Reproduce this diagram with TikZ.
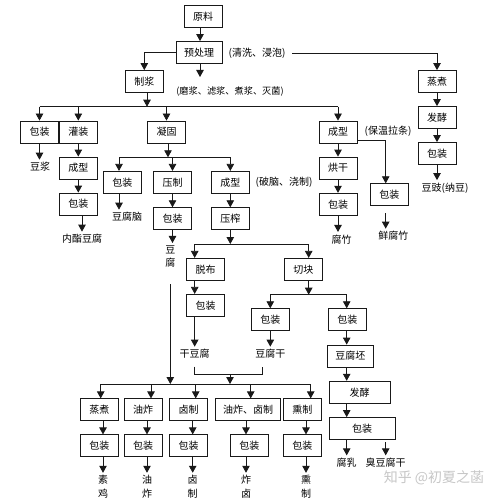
\documentclass[tikz,border=0pt]{standalone}
\usepackage{fontspec}
\setmainfont{Noto Sans CJK SC}
\usetikzlibrary{arrows.meta, positioning}

\begin{document}
\begin{tikzpicture}[x=1pt, y=-1pt,
    procbox/.style={draw=black!90, line width=0.8pt, minimum width=38pt, minimum height=22pt, inner sep=1pt, font=\fontsize{10}{12}\selectfont},
    note/.style={inner sep=2.5pt, font=\fontsize{10}{12}\selectfont},
    vnote/.style={inner sep=2.5pt, align=center, font=\fontsize{10}{13.3}\selectfont},
    arr/.style={-{Triangle[length=7pt, width=7.5pt]}, line width=0.8pt, color=black!90},
    bus/.style={line width=0.8pt, color=black!90}
]
\fill[white] (0,0) rectangle (500,500);
\useasboundingbox (0,0) rectangle (500,500);

% top of the tree
\node[procbox] (yuanliao) at (203,16.5) {原料};
\node[procbox, minimum width=46pt] (yuchuli) at (199,52.5) {预处理};
\node[note] (qingxi) at (257,53) {(清洗、浸泡)};
\node[procbox] (zhijiang) at (144.3,81.5) {制浆};
\coordinate (mjend) at (200,77);
\node[note, font=\fontsize{9.2}{11}\selectfont] (mojiang) at (230,92) {(磨浆、滤浆、煮浆、灭菌)};
\draw[arr] (yuanliao.south -| mjend) -- (yuchuli.north -| mjend);
\draw[arr] (yuchuli.south -| mjend) -- (mjend);
\draw[arr] (yuchuli.west) -| (zhijiang.north);

% douchi branch
\node[procbox] (zhengzhu) at (437,81.5) {蒸煮};
\node[procbox] (fajiao) at (437,117.5) {发酵};
\node[procbox] (bzdouchi) at (437,153.5) {包装};
\node[note] (douchi) at (445,188) {豆豉(纳豆)};
\draw[arr, shorten <=4pt] (qingxi.east) -| (zhengzhu.north);
\draw[arr] (zhengzhu) -- (fajiao);
\draw[arr] (fajiao) -- (bzdouchi);
\draw[arr] (bzdouchi.south) -- (bzdouchi.south |- douchi.north);

% first split
\coordinate (bus1) at (147,106.7);
\node[procbox] (bzjiang) at (39.5,132) {包装};
\node[procbox] (guanzhuang) at (78.3,132) {灌装};
\node[procbox] (ninggu) at (166.5,132) {凝固};
\node[procbox] (chengxingzhu) at (338,132) {成型};
\node[note] (baowen) at (388,131) {(保温拉条)};
\draw[arr] (zhijiang.south -| bus1) -- (bus1);
\draw[bus] (bus1 -| bzjiang) -- (bus1 -| chengxingzhu);
\foreach \n in {bzjiang, guanzhuang, ninggu, chengxingzhu}
    \draw[arr] (bus1 -| \n) -- (\n);

\node[note] (doujiang) at (40,167) {豆浆};
\node[procbox] (chengxingnz) at (78.3,168) {成型};
\node[procbox] (bznz) at (78.3,204) {包装};
\node[note] (neizhi) at (82,239) {内酯豆腐};
\draw[arr] (bzjiang.south) -- (bzjiang.south |- doujiang.north);
\draw[arr] (guanzhuang) -- (chengxingnz);
\draw[arr] (chengxingnz) -- (bznz);
\draw[arr] (bznz.south -| neizhi) -- (neizhi);

% yuba branch
\node[procbox] (honggan) at (338,168) {烘干};
\node[procbox] (bzfz) at (338,204.2) {包装};
\node[note] (fuzhu) at (341.7,239.3) {腐竹};
\node[procbox] (bzxian) at (389.3,194.7) {包装};
\node[note] (xianfz) at (393.3,236) {鲜腐竹};
\coordinate (xiancol) at (385.7,140.7);
\draw[arr] (chengxingzhu) -- (honggan);
\draw[arr] (honggan) -- (bzfz);
\draw[arr] (bzfz.south) -- (bzfz.south |- fuzhu.north);
\draw[arr] (chengxingzhu.east |- xiancol) -- (xiancol) -- (xiancol |- bzxian.north);
\draw[arr, shorten <=7pt] (bzxian.south -| xiancol) -- (xianfz.north -| xiancol);

% coagulation branch
\coordinate (bus2) at (168,157.3);
\coordinate (naocol) at (119,157.3);
\node[procbox] (bznao) at (122.3,182.3) {包装};
\node[procbox] (yazhi) at (172.5,182.3) {压制};
\node[procbox] (chengxinggan) at (230.3,182.3) {成型};
\node[note] (ponao) at (284,182) {(破脑、浇制)};
\node[note] (doufunao) at (127,217) {豆腐脑};
\node[procbox] (bzdf) at (172.5,218.7) {包装};
\node[vnote] (doufu) at (170.3,256.7) {豆\\腐};
\node[procbox] (yazha) at (230.3,218.7) {压榨};
\draw[arr] (ninggu.south -| bus2) -- (bus2);
\draw[bus] (naocol) -- (bus2 -| chengxinggan);
\draw[arr] (naocol) -- (naocol |- bznao.north);
\draw[arr] (bus2 -| yazhi) -- (yazhi);
\draw[arr] (bus2 -| chengxinggan) -- (chengxinggan);
\draw[arr] (bznao.south -| naocol) -- (doufunao.north -| naocol);
\draw[arr] (yazhi) -- (bzdf);
\draw[arr] (bzdf.south) -- (bzdf.south |- doufu.north);
\draw[arr] (chengxinggan) -- (yazha);

% pressed tofu
\coordinate (bus3) at (230.3,244);
\coordinate (bus4) at (308.7,294.7);
\node[procbox] (tuobu) at (205.7,269.3) {脱布};
\node[procbox] (qiekuai) at (303.3,269.3) {切块};
\node[procbox] (bzgan) at (205.7,305.3) {包装};
\node[note] (gandoufu) at (194.7,354) {干豆腐};
\node[procbox] (bzfg) at (270.3,319.7) {包装};
\node[procbox] (bzpi) at (347.3,319.7) {包装};
\node[note] (doufugan) at (270.3,354) {豆腐干};
\node[procbox, minimum width=46pt] (doufupi) at (350.3,356) {豆腐坯};
\node[procbox, minimum width=61pt] (fajiaopi) at (359.5,392.2) {发酵};
\node[procbox, minimum width=66pt] (bzfr) at (362.2,428.5) {包装};
\node[note] (furu) at (346.7,462.7) {腐乳};
\node[note] (choudf) at (385.7,462.7) {臭豆腐干};
\draw[arr] (yazha) -- (bus3);
\draw[bus] (bus3 -| gandoufu) -- (bus3 -| bus4);
\draw[arr] (bus3 -| gandoufu) -- (tuobu.north -| gandoufu);
\draw[arr] (bus3 -| bus4) -- (qiekuai.north -| bus4);
\draw[arr] (tuobu.south -| gandoufu) -- (bzgan.north -| gandoufu);
\draw[arr] (bzgan.south -| gandoufu) -- (gandoufu);
\draw[arr] (qiekuai.south -| bus4) -- (bus4);
\draw[bus] (bus4 -| bzfg) -- (bus4 -| furu);
\draw[arr] (bus4 -| bzfg) -- (bzfg);
\draw[arr] (bus4 -| furu) -- (bzpi.north -| furu);
\draw[arr] (bzfg) -- (doufugan);
\draw[arr] (bzpi.south -| furu) -- (doufupi.north -| furu);
\draw[arr] (doufupi.south -| furu) -- (fajiaopi.north -| furu);
\draw[arr] (fajiaopi.south -| furu) -- (bzfr.north -| furu);
\draw[arr] (bzfr.south -| furu) -- (furu);
\draw[arr, shorten <=2.4pt] (bzfr.south -| choudf) -- (choudf);

% second processing
\coordinate (brlt) at (194.7,366.7);
\coordinate (brl) at (194.7,374);
\coordinate (brr) at (262.7,374);
\coordinate (brrt) at (262.7,366.7);
\coordinate (brm) at (230,374);
\coordinate (dr1) at (100.7,384);
\coordinate (dr2) at (151,384);
\coordinate (dr3) at (195.7,384);
\coordinate (dr4) at (250.7,384);
\coordinate (dr5) at (310.7,384);
\node[procbox] (zhengzhusj) at (99.3,409.8) {蒸煮};
\node[procbox] (youzha) at (143,409.8) {油炸};
\node[procbox] (luzhi) at (188.7,409.8) {卤制};
\node[procbox, minimum width=65pt] (zhalu) at (248,409.8) {油炸、卤制};
\node[procbox] (xunzhi) at (302.3,409.8) {熏制};
\node[procbox] (bzsj) at (99.3,445.8) {包装};
\node[procbox] (bzyz) at (143,445.8) {包装};
\node[procbox] (bzlz) at (188.7,445.8) {包装};
\node[procbox] (bzzl) at (249.3,445.8) {包装};
\node[procbox] (bzxz) at (302.3,445.8) {包装};
\node[vnote] (suji) at (103,486.7) {素\\鸡};
\node[vnote] (youzhat) at (147,486.7) {油\\炸};
\node[vnote] (luzhit) at (192.7,486.7) {卤\\制};
\node[vnote] (zhalut) at (246,486.7) {炸\\卤};
\node[vnote] (xunzhit) at (306,486.7) {熏\\制};
\draw[bus] (brlt) -- (brl) -- (brr) -- (brrt);
\draw[arr] (brm) -- (brm |- dr1);
\draw[arr, shorten <=14pt] (doufu.south) -- (doufu.south |- dr1);
\draw[bus] (dr1) -- (dr5);
\foreach \d/\n in {dr1/zhengzhusj, dr2/youzha, dr3/luzhi, dr4/zhalu, dr5/xunzhi}
    \draw[arr] (\d) -- (\d |- \n.north);
\foreach \a/\b/\c in {zhengzhusj/bzsj/suji, youzha/bzyz/youzhat, luzhi/bzlz/luzhit, zhalu/bzzl/zhalut, xunzhi/bzxz/xunzhit} {
    \draw[arr] (\a.south -| \c) -- (\b.north -| \c);
    \draw[arr] (\b.south -| \c) -- (\c);
}

\node[font=\fontsize{14}{16}\selectfont, text=black!22] (shuiyin) at (434,478) {知乎 @初夏之菡};
\end{tikzpicture}
\end{document}
